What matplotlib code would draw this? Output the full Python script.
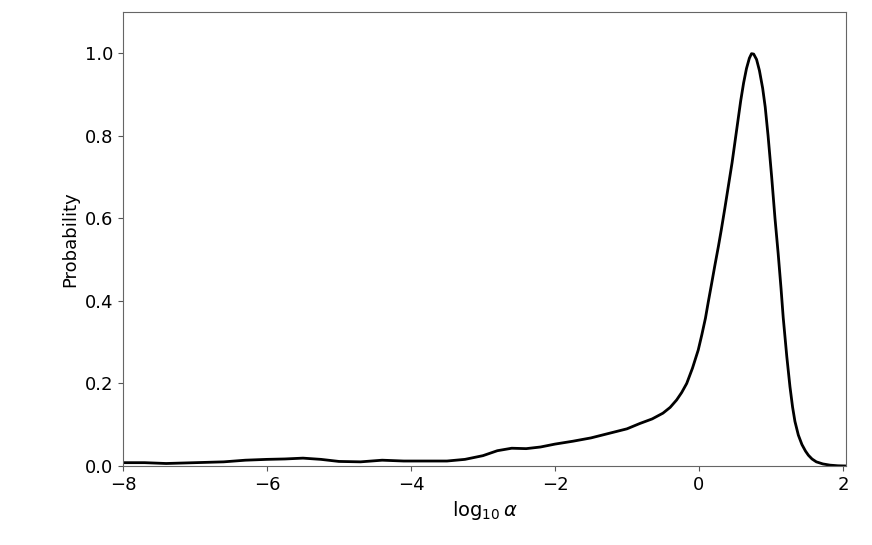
import numpy as np
import matplotlib
matplotlib.use('Agg')
import matplotlib.pyplot as plt

# density curve
log_alpha = [-8.0, -7.7, -7.4, -7.0, -6.6, -6.3, -6.0, -5.75, -5.5, -5.25, -5.0, -4.7,
             -4.4, -4.1, -3.8, -3.5, -3.25, -3.0, -2.8, -2.6, -2.4, -2.2, -2.0, -1.75,
             -1.5, -1.25, -1.0, -0.82, -0.65, -0.5, -0.4, -0.31, -0.24, -0.17, -0.09,
             -0.01, 0.04, 0.09, 0.13, 0.176, 0.22, 0.27, 0.31, 0.36, 0.41, 0.46, 0.5,
             0.54, 0.58, 0.62, 0.66, 0.70, 0.73, 0.76, 0.80, 0.84, 0.885, 0.92, 0.96,
             1.01, 1.056, 1.10, 1.14, 1.17, 1.22, 1.264, 1.30, 1.333, 1.38, 1.43, 1.48,
             1.52, 1.57, 1.63, 1.72, 1.82, 1.93, 2.04]
probability = [0.008, 0.008, 0.006, 0.008, 0.010, 0.014, 0.016, 0.017, 0.019, 0.016, 0.011, 0.010,
               0.014, 0.012, 0.012, 0.012, 0.016, 0.025, 0.037, 0.043, 0.042, 0.046, 0.053, 0.060,
               0.068, 0.079, 0.090, 0.103, 0.114, 0.128, 0.142, 0.160, 0.178, 0.200, 0.237,
               0.281, 0.318, 0.358, 0.398, 0.442, 0.485, 0.532, 0.572, 0.625, 0.680, 0.735, 0.785,
               0.835, 0.885, 0.928, 0.963, 0.988, 0.999, 0.998, 0.985, 0.958, 0.915, 0.870, 0.800,
               0.700, 0.600, 0.515, 0.430, 0.360, 0.265, 0.192, 0.143, 0.108, 0.075, 0.052, 0.036,
               0.026, 0.017, 0.010, 0.005, 0.002, 0.0005, 0.0]

fig = plt.figure(figsize=(8.72, 5.45), dpi=100)
ax = fig.add_axes([0.141, 0.145, 0.829, 0.833])
ax.plot(log_alpha, probability, color='black', linewidth=2)

ax.set_xlim(-8, 2.04)
ax.set_ylim(0, 1.1)
ax.set_xticks([-8, -6, -4, -2, 0, 2])
ax.set_yticks([0.0, 0.2, 0.4, 0.6, 0.8, 1.0])
ax.tick_params(labelsize=13, color='#555555')
for s in ax.spines.values():
    s.set_color('#666666')

ax.set_xlabel(r'$\log_{10}\alpha$', fontsize=14)
ax.set_ylabel('Probability', fontsize=13)

fig.savefig('out.png', dpi=100)
